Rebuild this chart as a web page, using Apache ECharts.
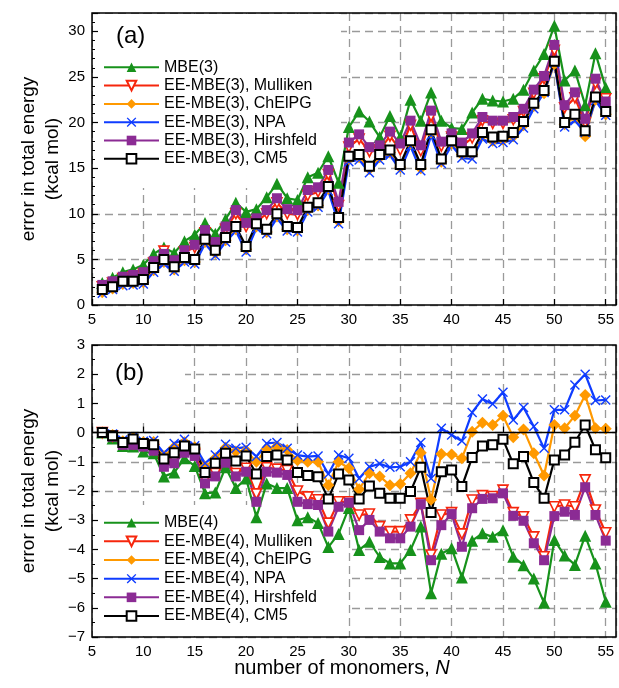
<!DOCTYPE html>
<html>
<head>
<meta charset="utf-8">
<script src="https://cdn.jsdelivr.net/npm/echarts@6/dist/echarts.min.js"></script>
<style>
  html, body { margin: 0; padding: 0; background: #fff; }
  #chart { width: 619px; height: 688px; }
</style>
</head>
<body>
<div id="chart"></div>
<script>
// Cluster size N
const monomers = [6, 7, 8, 9, 10, 11, 12, 13, 14, 15, 16, 17, 18, 19, 20, 21, 22, 23, 24, 25,
  26, 27, 28, 29, 30, 31, 32, 33, 34, 35, 36, 37, 38, 39, 40, 41, 42, 43, 44, 45,
  46, 47, 48, 49, 50, 51, 52, 53, 54, 55];

// (a) three-body expansions, error in kcal/mol
const mbe3 = [2.4, 3.0, 3.6, 3.9, 4.4, 5.6, 6.3, 5.7, 7.0, 7.7, 9.0, 7.8, 9.4, 11.2, 10.2, 10.5, 11.8, 13.3,
  11.7, 11.5, 14.0, 14.5, 16.3, 13.4, 19.5, 21.2, 20.1, 18.4, 20.7, 18.4, 22.5, 20.2, 23.3,
  20.2, 19.4, 19.3, 21.1, 22.6, 22.4, 22.3, 22.6, 23.6, 25.7, 27.5, 30.6, 24.6, 25.7, 21.9, 27.6, 23.8];
const ee3Mulliken = [2.0, 2.4, 2.9, 3.1, 3.4, 4.6, 5.9, 4.7, 5.8, 6.3, 7.9, 6.6, 8.3, 10.0, 8.6, 9.1, 10.0, 11.2,
  10.0, 9.9, 12.0, 12.4, 14.3, 10.9, 17.3, 18.2, 16.8, 17.0, 18.5, 17.0, 19.7, 16.9, 20.7,
  17.4, 18.4, 17.4, 18.3, 20.2, 19.9, 19.9, 20.3, 21.2, 23.2, 24.8, 27.9, 21.6, 22.7, 20.0, 24.3, 22.6];
const ee3ChElPG = [1.4, 1.8, 2.3, 2.4, 2.5, 3.8, 4.7, 3.9, 4.9, 4.7, 6.9, 5.7, 7.1, 8.3, 6.1, 8.6, 8.0, 9.7,
  8.3, 8.2, 10.4, 10.9, 12.7, 9.2, 16.0, 16.2, 14.9, 16.2, 16.7, 15.1, 17.7, 15.0, 18.9,
  15.7, 17.7, 16.5, 16.5, 18.6, 18.0, 18.1, 18.5, 19.7, 21.8, 23.2, 26.4, 19.8, 20.6, 18.5, 22.5, 20.9];
const ee3NPA = [1.3, 1.7, 2.1, 2.2, 2.3, 3.6, 4.5, 3.7, 4.7, 4.5, 6.7, 5.4, 6.9, 8.1, 5.8, 8.4, 7.8, 9.5,
  8.1, 8.0, 10.2, 10.7, 12.5, 8.9, 15.7, 15.9, 14.5, 15.9, 16.4, 14.8, 17.4, 14.7, 18.6,
  15.5, 17.5, 16.1, 16.0, 18.2, 17.7, 17.8, 18.1, 19.4, 21.5, 23.3, 26.5, 19.5, 20.2, 18.9, 22.4, 20.8];
const ee3Hirshfeld = [2.2, 2.6, 3.1, 3.3, 3.6, 4.8, 5.6, 4.9, 6.0, 6.6, 8.2, 6.9, 8.6, 10.4, 9.0, 9.5, 10.4, 11.7,
  10.5, 10.4, 12.6, 12.9, 14.8, 11.3, 17.8, 18.7, 17.3, 17.5, 19.0, 17.7, 20.2, 17.5, 21.3,
  17.9, 18.8, 17.8, 18.8, 20.6, 20.2, 20.2, 20.6, 21.5, 23.6, 25.1, 28.5, 21.9, 23.3, 20.4, 24.8, 22.3];
const ee3CM5 = [1.7, 2.0, 2.6, 2.6, 2.8, 4.1, 5.0, 4.2, 5.2, 5.0, 7.2, 6.0, 7.4, 8.6, 6.4, 8.9, 8.3, 10.0,
  8.6, 8.5, 10.7, 11.2, 13.0, 9.6, 16.3, 16.5, 15.2, 16.5, 17.0, 15.4, 18.0, 15.4, 19.2,
  16.0, 18.0, 16.8, 16.8, 18.9, 18.4, 18.5, 18.9, 20.1, 22.1, 23.5, 26.7, 20.0, 20.9, 19.1, 22.8, 21.2];

// (b) four-body expansions, error in kcal/mol
const mbe4 = [0.0, -0.2, -0.46, -0.48, -0.65, -0.71, -1.5, -1.37, -0.88, -1.14, -2.08, -2.05, -1.19, -1.9, -1.57, -2.9, -1.74, -1.9,
  -1.9, -3.0, -2.9, -3.1, -3.92, -3.47, -2.58, -4.02, -3.74, -4.26, -4.48, -4.48, -4.02, -3.22, -5.5,
  -4.15, -3.96, -4.96, -3.7, -3.45, -3.57, -3.34, -4.25, -4.54, -5.0, -5.83, -3.68, -4.21, -4.53, -3.53, -4.48, -5.79];
const ee4Mulliken = [0.0, -0.12, -0.38, -0.38, -0.44, -0.58, -1.05, -0.95, -0.62, -0.74, -1.62, -1.4, -0.95, -1.4, -1.22, -2.1, -1.2, -1.25,
  -1.3, -2.0, -2.2, -2.3, -3.1, -2.37, -2.37, -2.82, -2.79, -3.22, -3.39, -3.39, -2.99, -2.42, -4.19,
  -2.82, -2.74, -3.47, -2.31, -2.16, -2.19, -1.97, -2.74, -2.88, -3.57, -4.25, -2.54, -2.48, -2.54, -1.62, -2.65, -3.43];
const ee4ChElPG = [0.0, -0.08, -0.3, -0.18, -0.33, -0.32, -0.8, -0.5, -0.33, -0.5, -1.17, -0.88, -0.52, -0.65, -0.62, -1.0, -0.55, -0.48,
  -0.6, -0.95, -1.0, -1.0, -1.8, -1.0, -1.22, -1.94, -1.39, -1.5, -1.8, -1.76, -1.39, -0.69, -2.3,
  -0.73, -0.75, -0.88, 0.03, 0.34, 0.26, 0.58, -0.16, 0.11, -0.71, -1.47, 0.26, 0.15, 0.58, 1.29, 0.15, 0.13];
const ee4NPA = [0.0, -0.05, -0.25, -0.14, -0.3, -0.27, -0.7, -0.37, -0.23, -0.45, -1.05, -0.77, -0.4, -0.54, -0.5, -0.82, -0.37, -0.34,
  -0.54, -0.77, -0.82, -0.8, -1.42, -0.77, -0.88, -1.57, -1.17, -1.07, -1.19, -1.17, -1.0, -0.34, -1.57,
  0.15, -0.08, -0.29, 0.69, 1.15, 0.98, 1.38, 0.43, 0.86, 0.21, -0.54, 0.78, 0.78, 1.63, 2.0, 1.1, 1.12];
const ee4Hirshfeld = [0.0, -0.14, -0.42, -0.42, -0.48, -0.62, -1.17, -1.05, -0.69, -0.8, -1.74, -1.5, -1.03, -1.5, -1.34, -2.37, -1.34, -1.37,
  -1.45, -2.37, -2.45, -2.48, -3.39, -2.54, -2.4, -3.34, -2.99, -3.39, -3.62, -3.62, -3.22, -2.45, -4.37,
  -3.17, -2.79, -3.91, -2.59, -2.27, -2.25, -2.08, -2.85, -3.02, -3.79, -4.37, -2.86, -2.71, -2.82, -1.87, -2.82, -3.7];
const ee4CM5 = [0.0, -0.11, -0.34, -0.22, -0.37, -0.42, -0.9, -0.69, -0.46, -0.56, -1.37, -1.05, -0.71, -0.97, -0.8, -1.42, -0.82, -0.77,
  -0.94, -1.37, -1.47, -1.51, -2.27, -1.42, -1.62, -2.27, -1.83, -2.08, -2.25, -2.25, -2.02, -1.19, -2.74,
  -1.34, -1.28, -1.85, -0.85, -0.46, -0.42, -0.23, -1.07, -0.82, -1.71, -2.25, -0.94, -0.77, -0.33, 0.26, -0.59, -0.86];

const legendA = ['MBE(3)', 'EE-MBE(3), Mulliken', 'EE-MBE(3), ChElPG', 'EE-MBE(3), NPA', 'EE-MBE(3), Hirshfeld', 'EE-MBE(3), CM5'];
const legendB = ['MBE(4)', 'EE-MBE(4), Mulliken', 'EE-MBE(4), ChElPG', 'EE-MBE(4), NPA', 'EE-MBE(4), Hirshfeld', 'EE-MBE(4), CM5'];

const FONT = '"Liberation Sans", Arial, Helvetica, sans-serif';
const CROSS = 'path://M1,0 L5,4 L9,0 L10,1 L6,5 L10,9 L9,10 L5,6 L1,10 L0,9 L4,5 L0,1 Z';

// marker / line style per method (same order in both panels)
const styles = [
  { color: '#17921b', symbol: 'triangle', size: 12, fill: '#17921b' },
  { color: '#f6260c', symbol: 'triangle', size: 10, fill: '#ffffff', rotate: 180, border: 1.6 },
  { color: '#ff9900', symbol: 'diamond', size: 12, fill: '#ff9900' },
  { color: '#0f3cff', symbol: CROSS, size: 10, fill: '#0f3cff' },
  { color: '#8b2b94', symbol: 'rect', size: 10, fill: '#8b2b94' },
  { color: '#000000', symbol: 'rect', size: 9, fill: '#ffffff', border: 2 }
];

function makeSeries(name, values, st, axis, extra) {
  const s = {
    type: 'line', name: name,
    xAxisIndex: axis, yAxisIndex: axis,
    data: monomers.map((n, i) => [n, values[i]]),
    symbol: st.symbol, symbolSize: st.size, symbolRotate: st.rotate || 0,
    showSymbol: true,
    lineStyle: { color: st.color, width: 2.2 },
    itemStyle: { color: st.fill, borderColor: st.color, borderWidth: st.border || 0 },
    emphasis: { disabled: true },
    z: 2
  };
  return Object.assign(s, extra || {});
}

const setA = [mbe3, ee3Mulliken, ee3ChElPG, ee3NPA, ee3Hirshfeld, ee3CM5];
const setB = [mbe4, ee4Mulliken, ee4ChElPG, ee4NPA, ee4Hirshfeld, ee4CM5];

const series = [];
setA.forEach((v, i) => series.push(makeSeries(legendA[i], v, styles[i], 0)));
setB.forEach((v, i) => series.push(makeSeries(legendB[i], v, styles[i], 2,
  i === 0 ? { markLine: { silent: true, symbol: 'none', label: { show: false },
    lineStyle: { color: '#000', width: 1.4, type: 'solid' }, data: [{ yAxis: 0 }] } } : {})));

const gridDash = { show: true, lineStyle: { color: '#9a9a9a', width: 1.3, type: [8, 5] } };
const fmtNum = v => (v < 0 ? '\u2212' + (-v) : String(v));

// axes that only carry the dashed grid lines (kept beneath the blank legend areas)
function lineAxis(grid, pos, min, max, interval) {
  return { type: 'value', gridIndex: grid, position: pos, min: min, max: max, interval: interval, z: 0,
    axisLine: { show: false }, axisTick: { show: false }, axisLabel: { show: false }, splitLine: gridDash };
}
// axes that carry ticks and labels (drawn above the blank areas)
function tickX(grid) {
  return { type: 'value', gridIndex: grid, position: 'bottom', min: 5, max: 56, interval: 5, z: 3,
    axisLine: { show: false }, splitLine: { show: false },
    axisTick: { show: true, inside: true, length: 6, lineStyle: { color: '#000', width: 1.2 } },
    axisLabel: { margin: 7, color: '#000', fontSize: 15, fontFamily: FONT,
      formatter: v => (v % 5 === 0 ? String(v) : '') } };
}
function tickY(grid, min, max, interval, minorSplit, step) {
  return { type: 'value', gridIndex: grid, position: 'left', min: min, max: max, interval: interval, z: 3,
    axisLine: { show: false }, splitLine: { show: false },
    axisTick: { show: true, inside: true, length: 6, lineStyle: { color: '#000', width: 1.2 } },
    minorTick: { show: true, splitNumber: minorSplit, length: 3, lineStyle: { color: '#000', width: 1 } },
    axisLabel: { margin: 7, color: '#000', fontSize: 15, fontFamily: FONT,
      formatter: v => (Math.abs(v % step) < 1e-9 ? fmtNum(v) : '') } };
}

const legendCommon = {
  orient: 'vertical', left: 103, padding: 0, itemWidth: 55, itemHeight: 12,
  textStyle: { color: '#000', fontSize: 16, lineHeight: 16, fontFamily: FONT },
  selectedMode: false, z: 5
};

const textStyle = (txt, size) => ({ text: txt, font: size + 'px ' + FONT, fill: '#000', align: 'center', verticalAlign: 'middle' });

const option = {
  animation: false,
  backgroundColor: '#fff',
  grid: [
    { left: 92, top: 13, width: 525, height: 292, show: true, borderColor: '#000', borderWidth: 1.5, z: 4 },
    { left: 92, top: 345, width: 525, height: 292, show: true, borderColor: '#000', borderWidth: 1.5, z: 4 }
  ],
  xAxis: [lineAxis(0, 'top', 5, 56, 5), tickX(0), lineAxis(1, 'top', 5, 56, 5), tickX(1)],
  yAxis: [lineAxis(0, 'right', 0, 32, 5), tickY(0, 0, 32, 5, 5, 5), lineAxis(1, 'right', -7, 3, 1), tickY(1, -7, 3, 1, 2, 1)],
  legend: [
    Object.assign({ top: 59.3, itemGap: 2.3, data: legendA }, legendCommon),
    Object.assign({ top: 514.7, itemGap: 2.66, data: legendB }, legendCommon)
  ],
  graphic: { elements: [
    // blank areas behind legends and panel labels
    { type: 'rect', silent: true, z: 1, shape: { x: 93, y: 14, width: 248, height: 174 }, style: { fill: '#fff' } },
    { type: 'rect', silent: true, z: 1, shape: { x: 93, y: 346, width: 92, height: 72 }, style: { fill: '#fff' } },
    { type: 'rect', silent: true, z: 1, shape: { x: 93, y: 505, width: 254, height: 131 }, style: { fill: '#fff' } },
    { type: 'text', silent: true, z: 6, x: 116, y: 36, style: { text: '(a)', font: '24px ' + FONT, fill: '#000', align: 'left', verticalAlign: 'middle' } },
    { type: 'text', silent: true, z: 6, x: 115, y: 373, style: { text: '(b)', font: '24px ' + FONT, fill: '#000', align: 'left', verticalAlign: 'middle' } },
    { type: 'text', silent: true, z: 6, x: 29, y: 159, rotation: Math.PI / 2, style: textStyle('error in total energy', 19) },
    { type: 'text', silent: true, z: 6, x: 53, y: 159, rotation: Math.PI / 2, style: textStyle('(kcal mol)', 19) },
    { type: 'text', silent: true, z: 6, x: 29, y: 491, rotation: Math.PI / 2, style: textStyle('error in total energy', 19) },
    { type: 'text', silent: true, z: 6, x: 53, y: 491, rotation: Math.PI / 2, style: textStyle('(kcal mol)', 19) },
    { type: 'text', silent: true, z: 6, x: 342, y: 668, style: {
      text: '{a|number of monomers, }{b|N}', align: 'center', verticalAlign: 'middle', fill: '#000',
      rich: { a: { fontSize: 20, fontFamily: FONT, fill: '#000' },
              b: { fontSize: 20, fontFamily: FONT, fontStyle: 'italic', fill: '#000' } } } }
  ] },
  series: series
};

const chart = echarts.init(document.getElementById('chart'), null, { renderer: 'canvas' });
chart.setOption(option);
</script>
</body>
</html>
